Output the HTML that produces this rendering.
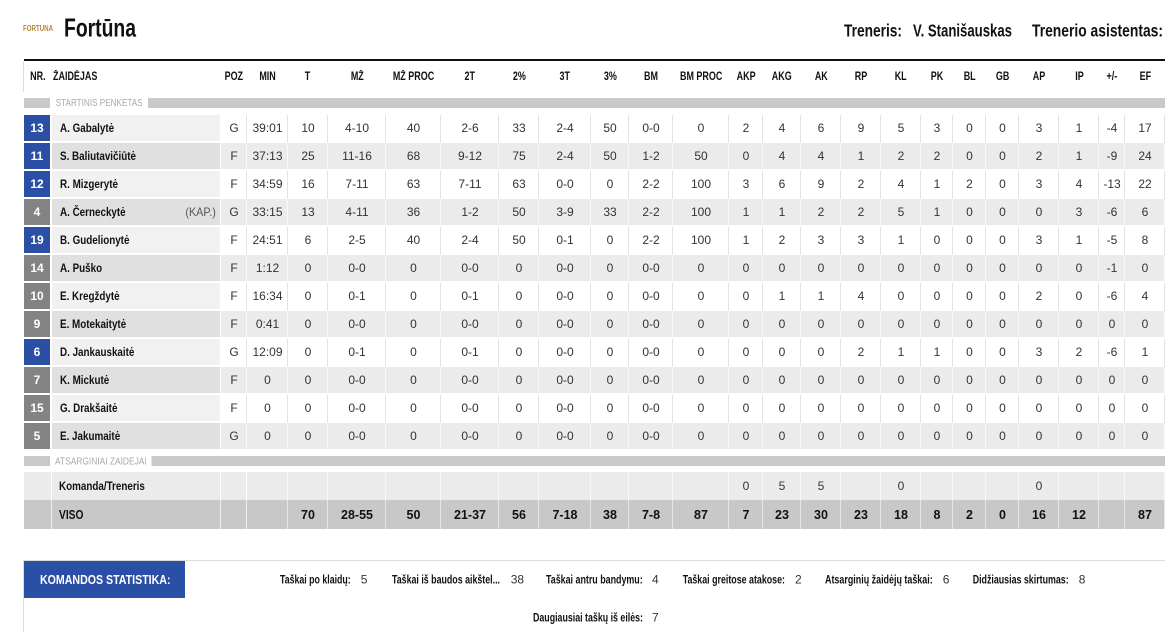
<!DOCTYPE html>
<html><head><meta charset="utf-8">
<style>
*{box-sizing:border-box}
body{margin:0;width:1165px;height:632px;overflow:hidden;background:#fff;font-family:"Liberation Sans",sans-serif;position:relative}
table{position:absolute;left:24px;border-collapse:separate;border-spacing:0;table-layout:fixed;width:1141px}
td{padding:0 0 2px 0;text-align:center;vertical-align:middle;font-size:12px;color:#333;white-space:nowrap;overflow:hidden}
table.d tr{height:28px}
tr.o td{background:#fff;box-shadow:inset -1px 0 0 #e3e3e3,inset 0 -2px 0 #fff}
tr.e td{background:#ebebeb;box-shadow:inset -1px 0 0 #f9f9f9,inset 0 -2px 0 #fff}
tr.o td.n{background:#f1f1f1;box-shadow:inset -1px 0 0 #fff,inset 0 -2px 0 #fff}
tr.e td.n{background:#e0e0e0;box-shadow:inset -1px 0 0 #fff,inset 0 -2px 0 #fff}
tr td.nr{background:#fff;box-shadow:none}
.bx{width:26px;height:26px;line-height:26px;color:#fff;font-weight:bold;font-size:12px;text-align:center}
.b{background:#2a4fa4}.g{background:#838383}
td.n{text-align:left;padding-left:8px}
.nw{display:flex;justify-content:space-between;padding-right:5px;align-items:center}
.nm{display:inline-block;transform:scaleX(.82);transform-origin:left center;font-weight:bold;color:#111}
.kap{color:#555;font-size:12px;display:inline-block;transform:scaleX(.9);transform-origin:right center}
table.h{top:61px}
table.h tr{height:31px}
table.h td{padding:0;font-weight:bold;color:#111;font-size:11.5px}
table.h td span{display:inline-block;transform:scaleX(.78)}
table.h td.l{text-align:left;padding-left:1px}
table.h td.l span{transform-origin:left center}
table.t{top:472px}
table.t tr.k{height:28px}
table.t tr.v{height:29px}
table.t td{padding:0}
tr.k td{background:#ebebeb;box-shadow:inset -1px 0 0 #f7f7f7}
tr.k td.w{box-shadow:inset -1px 0 0 #fff}
tr.v td{background:#c8c8c8;box-shadow:inset -1px 0 0 #e6e6e6;font-weight:bold;color:#111;font-size:12.5px}
tr.v td.w{box-shadow:inset -1px 0 0 #f0f0f0}
table.t td.tn{text-align:left;padding-left:7px}
.bar{position:absolute;left:24px;width:1141px;height:10px;background:#c9c9c9}
</style></head><body>

<div style="position:absolute;left:24px;top:59px;width:1141px;height:2px;background:#111"></div>
<div style="position:absolute;left:23px;top:61px;width:1px;height:31px;background:#ddd"></div>
<div class="bar" style="top:98px"></div>
<div class="bar" style="top:456px"></div>

<table class="h">
<colgroup><col style="width:28px"><col style="width:169px"><col style="width:26px"><col style="width:41px"><col style="width:40px"><col style="width:58px"><col style="width:55px"><col style="width:58px"><col style="width:40px"><col style="width:52px"><col style="width:38px"><col style="width:44px"><col style="width:56px"><col style="width:34px"><col style="width:38px"><col style="width:40px"><col style="width:40px"><col style="width:40px"><col style="width:32px"><col style="width:33px"><col style="width:33px"><col style="width:40px"><col style="width:40px"><col style="width:26px"><col style="width:40px"></colgroup>
<tr><td><span>NR.</span></td><td class="l"><span>ŽAIDĖJAS</span></td><td><span>POZ</span></td><td><span>MIN</span></td><td><span>T</span></td><td><span>MŽ</span></td><td><span>MŽ PROC</span></td><td><span>2T</span></td><td><span>2%</span></td><td><span>3T</span></td><td><span>3%</span></td><td><span>BM</span></td><td><span>BM PROC</span></td><td><span>AKP</span></td><td><span>AKG</span></td><td><span>AK</span></td><td><span>RP</span></td><td><span>KL</span></td><td><span>PK</span></td><td><span>BL</span></td><td><span>GB</span></td><td><span>AP</span></td><td><span>IP</span></td><td><span>+/-</span></td><td><span>EF</span></td></tr>
</table>

<table class="d" style="top:115px">
<colgroup><col style="width:28px"><col style="width:169px"><col style="width:26px"><col style="width:41px"><col style="width:40px"><col style="width:58px"><col style="width:55px"><col style="width:58px"><col style="width:40px"><col style="width:52px"><col style="width:38px"><col style="width:44px"><col style="width:56px"><col style="width:34px"><col style="width:38px"><col style="width:40px"><col style="width:40px"><col style="width:40px"><col style="width:32px"><col style="width:33px"><col style="width:33px"><col style="width:40px"><col style="width:40px"><col style="width:26px"><col style="width:40px"></colgroup>
<tr class="o"><td class="nr"><div class="bx b">13</div></td><td class="n"><span class="nm">A. Gabalytė</span></td><td>G</td><td>39:01</td><td>10</td><td>4-10</td><td>40</td><td>2-6</td><td>33</td><td>2-4</td><td>50</td><td>0-0</td><td>0</td><td>2</td><td>4</td><td>6</td><td>9</td><td>5</td><td>3</td><td>0</td><td>0</td><td>3</td><td>1</td><td>-4</td><td>17</td></tr>
<tr class="e"><td class="nr"><div class="bx b">11</div></td><td class="n"><span class="nm">S. Baliutavičiūtė</span></td><td>F</td><td>37:13</td><td>25</td><td>11-16</td><td>68</td><td>9-12</td><td>75</td><td>2-4</td><td>50</td><td>1-2</td><td>50</td><td>0</td><td>4</td><td>4</td><td>1</td><td>2</td><td>2</td><td>0</td><td>0</td><td>2</td><td>1</td><td>-9</td><td>24</td></tr>
<tr class="o"><td class="nr"><div class="bx b">12</div></td><td class="n"><span class="nm">R. Mizgerytė</span></td><td>F</td><td>34:59</td><td>16</td><td>7-11</td><td>63</td><td>7-11</td><td>63</td><td>0-0</td><td>0</td><td>2-2</td><td>100</td><td>3</td><td>6</td><td>9</td><td>2</td><td>4</td><td>1</td><td>2</td><td>0</td><td>3</td><td>4</td><td>-13</td><td>22</td></tr>
<tr class="e"><td class="nr"><div class="bx g">4</div></td><td class="n"><div class="nw"><span class="nm">A. Černeckytė</span><span class="kap">(KAP.)</span></div></td><td>G</td><td>33:15</td><td>13</td><td>4-11</td><td>36</td><td>1-2</td><td>50</td><td>3-9</td><td>33</td><td>2-2</td><td>100</td><td>1</td><td>1</td><td>2</td><td>2</td><td>5</td><td>1</td><td>0</td><td>0</td><td>0</td><td>3</td><td>-6</td><td>6</td></tr>
<tr class="o"><td class="nr"><div class="bx b">19</div></td><td class="n"><span class="nm">B. Gudelionytė</span></td><td>F</td><td>24:51</td><td>6</td><td>2-5</td><td>40</td><td>2-4</td><td>50</td><td>0-1</td><td>0</td><td>2-2</td><td>100</td><td>1</td><td>2</td><td>3</td><td>3</td><td>1</td><td>0</td><td>0</td><td>0</td><td>3</td><td>1</td><td>-5</td><td>8</td></tr>
<tr class="e"><td class="nr"><div class="bx g">14</div></td><td class="n"><span class="nm">A. Puško</span></td><td>F</td><td>1:12</td><td>0</td><td>0-0</td><td>0</td><td>0-0</td><td>0</td><td>0-0</td><td>0</td><td>0-0</td><td>0</td><td>0</td><td>0</td><td>0</td><td>0</td><td>0</td><td>0</td><td>0</td><td>0</td><td>0</td><td>0</td><td>-1</td><td>0</td></tr>
<tr class="o"><td class="nr"><div class="bx g">10</div></td><td class="n"><span class="nm">E. Kregždytė</span></td><td>F</td><td>16:34</td><td>0</td><td>0-1</td><td>0</td><td>0-1</td><td>0</td><td>0-0</td><td>0</td><td>0-0</td><td>0</td><td>0</td><td>1</td><td>1</td><td>4</td><td>0</td><td>0</td><td>0</td><td>0</td><td>2</td><td>0</td><td>-6</td><td>4</td></tr>
<tr class="e"><td class="nr"><div class="bx g">9</div></td><td class="n"><span class="nm">E. Motekaitytė</span></td><td>F</td><td>0:41</td><td>0</td><td>0-0</td><td>0</td><td>0-0</td><td>0</td><td>0-0</td><td>0</td><td>0-0</td><td>0</td><td>0</td><td>0</td><td>0</td><td>0</td><td>0</td><td>0</td><td>0</td><td>0</td><td>0</td><td>0</td><td>0</td><td>0</td></tr>
<tr class="o"><td class="nr"><div class="bx b">6</div></td><td class="n"><span class="nm">D. Jankauskaitė</span></td><td>G</td><td>12:09</td><td>0</td><td>0-1</td><td>0</td><td>0-1</td><td>0</td><td>0-0</td><td>0</td><td>0-0</td><td>0</td><td>0</td><td>0</td><td>0</td><td>2</td><td>1</td><td>1</td><td>0</td><td>0</td><td>3</td><td>2</td><td>-6</td><td>1</td></tr>
<tr class="e"><td class="nr"><div class="bx g">7</div></td><td class="n"><span class="nm">K. Mickutė</span></td><td>F</td><td>0</td><td>0</td><td>0-0</td><td>0</td><td>0-0</td><td>0</td><td>0-0</td><td>0</td><td>0-0</td><td>0</td><td>0</td><td>0</td><td>0</td><td>0</td><td>0</td><td>0</td><td>0</td><td>0</td><td>0</td><td>0</td><td>0</td><td>0</td></tr>
<tr class="o"><td class="nr"><div class="bx g">15</div></td><td class="n"><span class="nm">G. Drakšaitė</span></td><td>F</td><td>0</td><td>0</td><td>0-0</td><td>0</td><td>0-0</td><td>0</td><td>0-0</td><td>0</td><td>0-0</td><td>0</td><td>0</td><td>0</td><td>0</td><td>0</td><td>0</td><td>0</td><td>0</td><td>0</td><td>0</td><td>0</td><td>0</td><td>0</td></tr>
<tr class="e"><td class="nr"><div class="bx g">5</div></td><td class="n"><span class="nm">E. Jakumaitė</span></td><td>G</td><td>0</td><td>0</td><td>0-0</td><td>0</td><td>0-0</td><td>0</td><td>0-0</td><td>0</td><td>0-0</td><td>0</td><td>0</td><td>0</td><td>0</td><td>0</td><td>0</td><td>0</td><td>0</td><td>0</td><td>0</td><td>0</td><td>0</td><td>0</td></tr>
</table>

<table class="t">
<colgroup><col style="width:28px"><col style="width:169px"><col style="width:26px"><col style="width:41px"><col style="width:40px"><col style="width:58px"><col style="width:55px"><col style="width:58px"><col style="width:40px"><col style="width:52px"><col style="width:38px"><col style="width:44px"><col style="width:56px"><col style="width:34px"><col style="width:38px"><col style="width:40px"><col style="width:40px"><col style="width:40px"><col style="width:32px"><col style="width:33px"><col style="width:33px"><col style="width:40px"><col style="width:40px"><col style="width:26px"><col style="width:40px"></colgroup>
<tr class="k"><td class="w"></td><td class="w tn"><span class="nm">Komanda/Treneris</span></td><td class="w"></td><td></td><td></td><td></td><td></td><td></td><td></td><td></td><td></td><td></td><td></td><td>0</td><td>5</td><td>5</td><td></td><td>0</td><td></td><td></td><td></td><td>0</td><td></td><td></td><td></td></tr>
<tr class="v"><td class="w"></td><td class="w tn"><span class="nm">VISO</span></td><td class="w"></td><td></td><td>70</td><td>28-55</td><td>50</td><td>21-37</td><td>56</td><td>7-18</td><td>38</td><td>7-8</td><td>87</td><td>7</td><td>23</td><td>30</td><td>23</td><td>18</td><td>8</td><td>2</td><td>0</td><td>16</td><td>12</td><td></td><td>87</td></tr>
</table>

<div style="position:absolute;left:23px;top:560px;width:1142px;height:1px;background:#dcdcdc"></div>
<div style="position:absolute;left:23px;top:560px;width:1px;height:72px;background:#dcdcdc"></div>
<div style="position:absolute;left:24px;top:561px;width:161px;height:37px;background:#2a50a6"></div>

<svg width="1165" height="632" viewBox="0 0 1165 632" style="position:absolute;left:0;top:0" font-family="Liberation Sans, sans-serif">
<text x="23" y="31" font-size="8" font-weight="bold" fill="#b9843a" textLength="30" lengthAdjust="spacingAndGlyphs">FORTUNA</text>
<text x="64" y="36.7" font-size="26" font-weight="bold" fill="#111" textLength="72" lengthAdjust="spacingAndGlyphs">Fortūna</text>
<text x="844" y="36.7" font-size="17.5" font-weight="bold" fill="#111" textLength="58" lengthAdjust="spacingAndGlyphs">Treneris:</text>
<text x="913" y="36.7" font-size="17.5" font-weight="bold" fill="#111" textLength="99" lengthAdjust="spacingAndGlyphs">V. Stanišauskas</text>
<text x="1032" y="36.7" font-size="17.5" font-weight="bold" fill="#111" textLength="131" lengthAdjust="spacingAndGlyphs">Trenerio asistentas:</text>

<rect x="50" y="97" width="98" height="12" fill="#fff"/>
<text x="55.7" y="106" font-size="10" fill="#aaa" textLength="87" lengthAdjust="spacingAndGlyphs">STARTINIS PENKETAS</text>
<rect x="50" y="455" width="101.5" height="12" fill="#fff"/>
<text x="55" y="464.6" font-size="10" fill="#aaa" textLength="91.7" lengthAdjust="spacingAndGlyphs">ATSARGINIAI ZAIDEJAI</text>

<text x="40" y="583.8" font-size="12.5" font-weight="bold" fill="#fff" textLength="130.5" lengthAdjust="spacingAndGlyphs">KOMANDOS STATISTIKA:</text>

<g font-size="12" fill="#111">
<text x="280" y="583.5" font-weight="bold" textLength="70.7" lengthAdjust="spacingAndGlyphs">Taškai po klaidų:</text>
<text x="360.7" y="583.5" fill="#333">5</text>
<text x="392" y="583.5" font-weight="bold" textLength="108" lengthAdjust="spacingAndGlyphs">Taškai iš baudos aikštel...</text>
<text x="510.7" y="583.5" fill="#333">38</text>
<text x="546" y="583.5" font-weight="bold" textLength="96.7" lengthAdjust="spacingAndGlyphs">Taškai antru bandymu:</text>
<text x="652" y="583.5" fill="#333">4</text>
<text x="682.7" y="583.5" font-weight="bold" textLength="102.3" lengthAdjust="spacingAndGlyphs">Taškai greitose atakose:</text>
<text x="795" y="583.5" fill="#333">2</text>
<text x="825" y="583.5" font-weight="bold" textLength="107.7" lengthAdjust="spacingAndGlyphs">Atsarginių žaidėjų taškai:</text>
<text x="942.7" y="583.5" fill="#333">6</text>
<text x="972.7" y="583.5" font-weight="bold" textLength="96" lengthAdjust="spacingAndGlyphs">Didžiausias skirtumas:</text>
<text x="1078.7" y="583.5" fill="#333">8</text>
<text x="533" y="621.3" font-weight="bold" textLength="110" lengthAdjust="spacingAndGlyphs">Daugiausiai taškų iš eilės:</text>
<text x="652" y="621.3" fill="#333">7</text>
</g>
</svg>
</body></html>
